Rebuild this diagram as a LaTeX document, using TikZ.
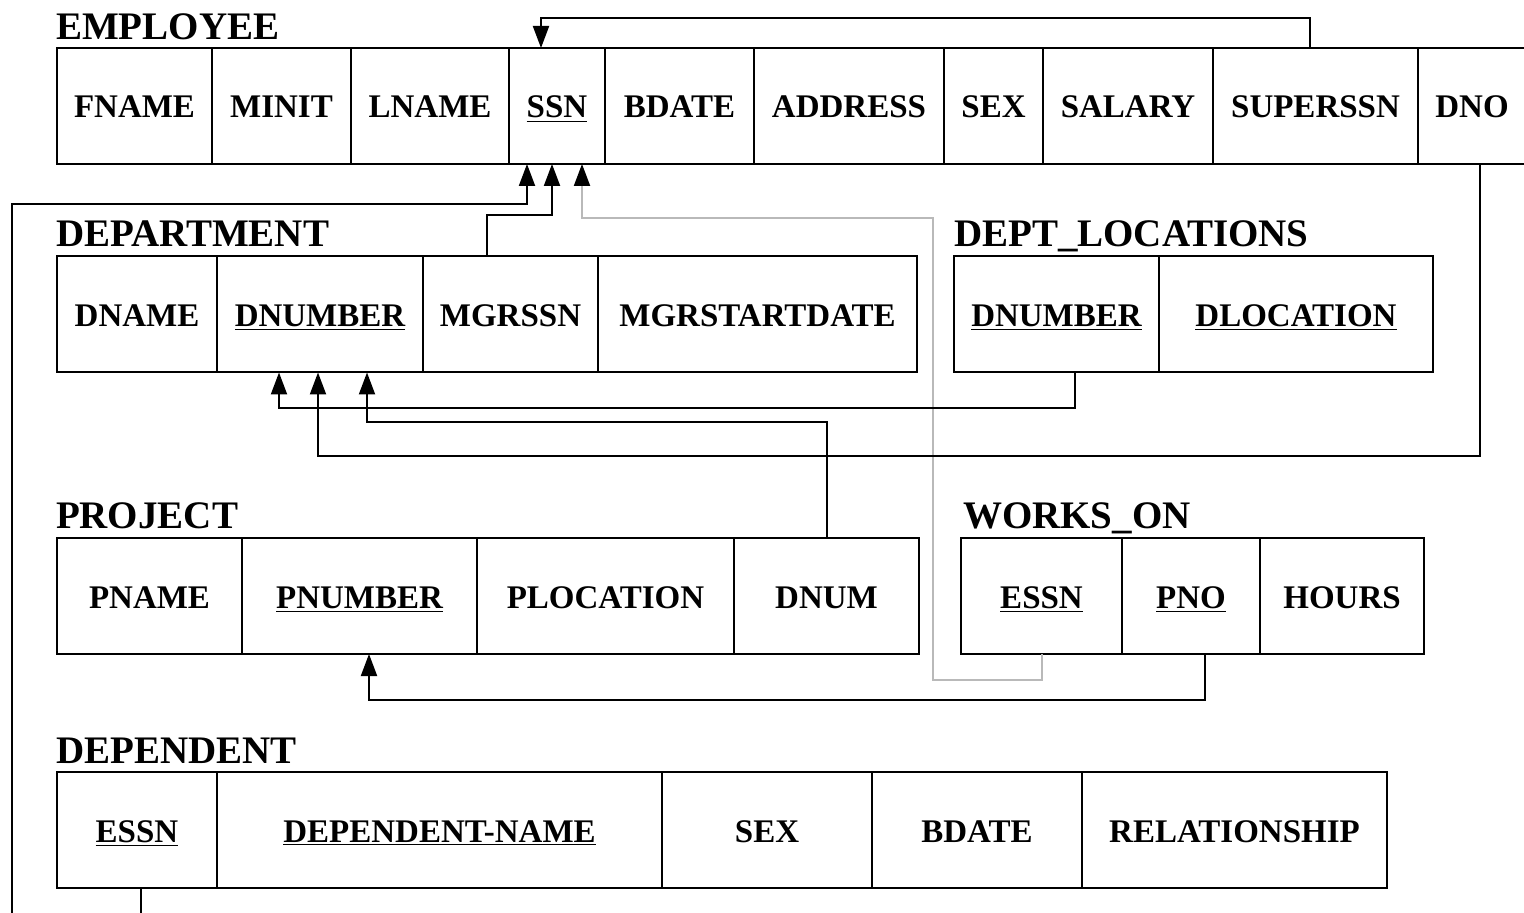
\documentclass[tikz,border=0pt]{standalone}
\usepackage{fontspec}
\setmainfont{Liberation Serif}
\usetikzlibrary{arrows.meta,positioning}

\begin{document}
\begin{tikzpicture}[
    x=0.5pt, y=-0.5pt, line width=1pt,
    attr/.style={draw, minimum height=58pt, inner sep=0pt, outer sep=0pt, text height=13pt, text depth=1pt, font=\fontsize{16.5}{19}\selectfont\bfseries},
    title/.style={anchor=base west, inner sep=0pt, font=\fontsize{19.5}{23}\selectfont\bfseries},
    fk/.style={->, >={Triangle[width=8pt,length=11pt]}},
    fkgray/.style={fk, draw=gray!55, >={Triangle[width=8pt,length=11pt,color=black]}}]
    \useasboundingbox (0,0) rectangle (1524,913);
    \clip (0,0) rectangle (1524,913);
    % EMPLOYEE
    \node[title] (emptitle) at (55,40) {EMPLOYEE};
    \node[attr, anchor=west, minimum width=77.5pt] (fname) at (57,106) {FNAME};
    \node[attr, right=0pt of fname, minimum width=69.5pt] (minit) {MINIT};
    \node[attr, right=0pt of minit, minimum width=79pt] (lname) {LNAME};
    \node[attr, right=0pt of lname, minimum width=48pt] (ssn) {\underline{SSN}};
    \node[attr, right=0pt of ssn, minimum width=74.5pt] (bdate) {BDATE};
    \node[attr, right=0pt of bdate, minimum width=95pt] (address) {ADDRESS};
    \node[attr, right=0pt of address, minimum width=49.5pt] (sex) {SEX};
    \node[attr, right=0pt of sex, minimum width=85pt] (salary) {SALARY};
    \node[attr, right=0pt of salary, minimum width=102.5pt] (superssn) {SUPERSSN};
    \node[attr, right=0pt of superssn, minimum width=54pt] (dno) {DNO};
    % DEPARTMENT
    \node[title] (depttitle) at (55,247) {DEPARTMENT};
    \node[attr, anchor=west, minimum width=80pt] (dname) at (57,314.5) {DNAME};
    \node[attr, right=0pt of dname, minimum width=103pt] (dnumber) {\underline{DNUMBER}};
    \node[attr, right=0pt of dnumber, minimum width=87.5pt] (mgrssn) {MGRSSN};
    \node[attr, right=0pt of mgrssn, minimum width=159.5pt] (mgrstart) {MGRSTARTDATE};
    % DEPT_LOCATIONS
    \node[title] (loctitle) at (953,247) {DEPT\_LOCATIONS};
    \node[attr, anchor=west, minimum width=102.5pt] (locdnumber) at (954,314.5) {\underline{DNUMBER}};
    \node[attr, right=0pt of locdnumber, minimum width=137pt] (dlocation) {\underline{DLOCATION}};
    % PROJECT
    \node[title] (projtitle) at (55,529) {PROJECT};
    \node[attr, anchor=west, minimum width=92.5pt] (pname) at (57,596) {PNAME};
    \node[attr, right=0pt of pname, minimum width=117.5pt] (pnumber) {\underline{PNUMBER}};
    \node[attr, right=0pt of pnumber, minimum width=128.5pt] (plocation) {PLOCATION};
    \node[attr, right=0pt of plocation, minimum width=92.5pt] (dnum) {DNUM};
    % WORKS_ON
    \node[title] (wotitle) at (962,529) {WORKS\_ON};
    \node[attr, anchor=west, minimum width=80.5pt] (woessn) at (961,596) {\underline{ESSN}};
    \node[attr, right=0pt of woessn, minimum width=69pt] (pno) {\underline{PNO}};
    \node[attr, right=0pt of pno, minimum width=82pt] (hours) {HOURS};
    % DEPENDENT
    \node[title] (deptitle) at (55,763) {DEPENDENT};
    \node[attr, anchor=west, minimum width=80pt] (depessn) at (57,830) {\underline{ESSN}};
    \node[attr, right=0pt of depessn, minimum width=222.5pt] (depname) {\underline{DEPENDENT-NAME}};
    \node[attr, right=0pt of depname, minimum width=105pt] (depsex) {SEX};
    \node[attr, right=0pt of depsex, minimum width=105pt] (depbdate) {BDATE};
    \node[attr, right=0pt of depbdate, minimum width=152.5pt] (relationship) {RELATIONSHIP};
    % foreign keys
    \draw[fk] ([xshift=-3pt]superssn.north) -- ++(0,-30) -| ([xshift=-8pt]ssn.north);
    \draw[fk] ([xshift=-11.75pt]mgrssn.north) -- ++(0,-41) -| ([xshift=-2.5pt]ssn.south);
    \draw[fkgray] (woessn.south) -- ++(0,26) -| (933,218) -| ([xshift=12.5pt]ssn.south);
    \draw[fk] ([xshift=2pt]depessn.south) -- ++(0,52) -| (12,204) -| ([xshift=-15pt]ssn.south);
    \draw[fk] ([xshift=4pt]dno.south) -- ++(0,292) -| ([xshift=-1pt]dnumber.south);
    \draw[fk] ([xshift=9.25pt]locdnumber.south) -- ++(0,36) -| ([xshift=-20.5pt]dnumber.south);
    \draw[fk] (dnum.north) -- ++(0,-116) -| ([xshift=23.5pt]dnumber.south);
    \draw[fk] ([xshift=7pt]pno.south) -- ++(0,46) -| ([xshift=4.75pt]pnumber.south);
\end{tikzpicture}
\end{document}
